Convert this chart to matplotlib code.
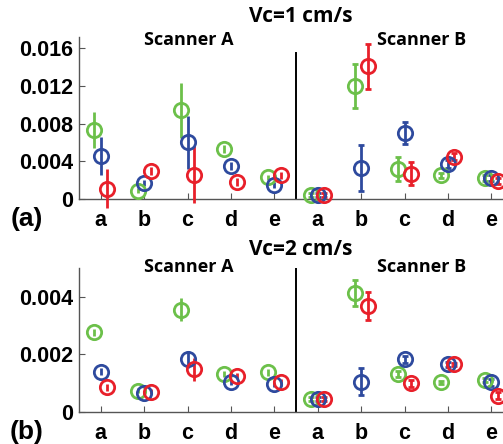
import numpy as np
import matplotlib
matplotlib.use("Agg")
import matplotlib.pyplot as plt

# --- Dados (Scanner A: a-e, depois Scanner B: a-e) ---
categorias = ["a", "b", "c", "d", "e", "a", "b", "c", "d", "e"]

# Vc = 1 cm/s
v1_verde = [0.0073, 0.0009, 0.0094, 0.0053, 0.0023, 0.0004, 0.0120, 0.0032, 0.0025, 0.0022]
v1_verde_err = [0.0019, 0.0003, 0.0029, 0.0004, 0.0003, 0.0002, 0.0023, 0.0013, 0.0003, 0.0003]
v1_azul = [0.0046, 0.0017, 0.0060, 0.0035, 0.0015, 0.0004, 0.0033, 0.0070, 0.0037, 0.0022]
v1_azul_err = [0.0020, 0.0003, 0.0028, 0.0004, 0.0003, 0.0002, 0.0024, 0.0012, 0.0004, 0.0003]
v1_vermelho = [0.0011, 0.0030, 0.0026, 0.0018, 0.0025, 0.0004, 0.0141, 0.0027, 0.0045, 0.0019]
v1_vermelho_err = [0.0021, 0.0004, 0.0030, 0.0004, 0.0004, 0.0002, 0.0024, 0.0012, 0.0004, 0.0003]

# Vc = 2 cm/s
v2_verde = [0.00276, 0.00073, 0.00354, 0.00131, 0.00137, 0.00044, 0.00414, 0.00131, 0.00102, 0.00110]
v2_verde_err = [0.00012, 0.00008, 0.0004, 0.0001, 0.00012, 0.00008, 0.00045, 0.00012, 0.00006, 0.00008]
v2_azul = [0.00139, 0.00064, 0.00182, 0.00102, 0.00095, 0.00044, 0.00104, 0.00182, 0.00165, 0.00102]
v2_azul_err = [0.00012, 0.00008, 0.0003, 0.0001, 0.0001, 0.00008, 0.00047, 0.00012, 0.00008, 0.00012]
v2_vermelho = [0.00085, 0.00070, 0.00147, 0.00125, 0.00102, 0.00044, 0.00368, 0.00099, 0.00165, 0.00055]
v2_vermelho_err = [0.00012, 0.00008, 0.0004, 0.0001, 0.00012, 0.00008, 0.00048, 0.00012, 0.00006, 0.00012]

v1_yticks = [0, 0.004, 0.008, 0.012, 0.016]
v1_ylabels = ["0", "0.004", "0.008", "0.012", "0.016"]
v2_yticks = [0, 0.002, 0.004]
v2_ylabels = ["0", "0.002", "0.004"]

VERDE = "#6cc04a"
AZUL = "#2e4a9e"
VERMELHO = "#e8202a"

FONTE_TICK = "Liberation Sans"
FONTE_TEXTO = "Open Sans"


def desenhar_painel(ax, series, ylim, yticks, ylabels, frac_divisoria):
    x = np.arange(1, 11)
    deslocamentos = [-0.15, 0.0, 0.15]
    for (vals, errs, cor), dx in zip(series, deslocamentos):
        vals = np.array(vals)
        errs = np.array(errs)
        # Scanner A sem "caps", Scanner B com "caps"
        for sl, cap in [(slice(0, 5), 0), (slice(5, 10), 2.5)]:
            ax.errorbar(x[sl] + dx, vals[sl], yerr=errs[sl], fmt="o", color=cor,
                        mfc="none", mec=cor, ms=10.3, mew=2.0, elinewidth=2.0,
                        capsize=cap, capthick=2.0, clip_on=False, zorder=3)

    # linha separando Scanner A e Scanner B
    ax.plot([5.5, 5.5], [0, ylim * frac_divisoria], color="black", lw=1.4)

    ax.set_xlim(0.5, 10.5)
    ax.set_ylim(0, ylim)
    ax.set_xticks(x)
    ax.set_xticklabels(categorias)
    ax.set_yticks(yticks)
    ax.set_yticklabels(ylabels)
    for s in ["top", "right"]:
        ax.spines[s].set_visible(False)
    for s in ["left", "bottom"]:
        ax.spines[s].set_color("#555555")
        ax.spines[s].set_linewidth(1.0)
    ax.tick_params(direction="in", length=4, color="#555555")
    ax.tick_params(axis="x", pad=8)
    ax.tick_params(axis="y", pad=4)
    for lbl in ax.get_xticklabels() + ax.get_yticklabels():
        lbl.set_fontfamily(FONTE_TICK)
        lbl.set_fontweight("bold")
        lbl.set_fontsize(15.5)


fig = plt.figure(figsize=(5.03, 4.44), dpi=100)
W, H = 503.0, 444.0

ax1 = fig.add_axes([79 / W, 1 - 199 / H, 434 / W, 162 / H])
ax2 = fig.add_axes([79 / W, 1 - 411.7 / H, 434 / W, 143.7 / H])

desenhar_painel(ax1,
                [(v1_verde, v1_verde_err, VERDE),
                 (v1_azul, v1_azul_err, AZUL),
                 (v1_vermelho, v1_vermelho_err, VERMELHO)],
                0.0172, v1_yticks, v1_ylabels, 0.90)
desenhar_painel(ax2,
                [(v2_verde, v2_verde_err, VERDE),
                 (v2_azul, v2_azul_err, AZUL),
                 (v2_vermelho, v2_vermelho_err, VERMELHO)],
                0.005, v2_yticks, v2_ylabels, 1.0)

# Títulos e rótulos (posições em pixels convertidas para fração da figura)
def texto(px, py, s, size, family=FONTE_TEXTO):
    fig.text(px / W, 1 - py / H, s, ha="center", va="center",
             fontsize=size, fontweight="bold", family=family)

texto(301, 17, "Vc=1 cm/s", 15)
texto(189, 40, "Scanner A", 13)
texto(422, 40, "Scanner B", 13)
texto(301, 249, "Vc=2 cm/s", 15)
texto(189, 267, "Scanner A", 13)
texto(422, 267, "Scanner B", 13)
texto(27, 219, "(a)", 19, FONTE_TICK)
texto(27, 432, "(b)", 19, FONTE_TICK)

fig.savefig("out.png", dpi=100)
